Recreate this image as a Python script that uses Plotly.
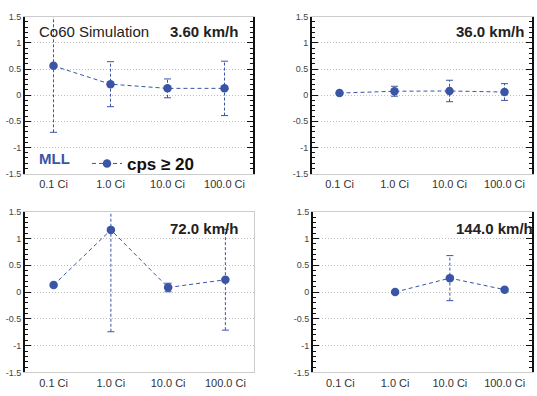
import plotly.graph_objects as go

categories = ["0.1 Ci", "1.0 Ci", "10.0 Ci", "100.0 Ci"]
speed_labels = ["3.60 km/h", "36.0 km/h", "72.0 km/h", "144.0 km/h"]

vals_3p6 = [0.56, 0.21, 0.13, 0.13]
errs_3p6 = [1.27, 0.43, 0.18, 0.52]
vals_36 = [0.04, 0.075, 0.08, 0.06]
errs_36 = [0.0, 0.095, 0.205, 0.16]
vals_72 = [0.13, 1.16, 0.085, 0.23]
errs_72 = [0.0, 1.9, 0.08, 0.94]
vals_144 = [None, 0.0, 0.26, 0.045]
errs_144 = [None, 0.0, 0.42, 0.0]

ytick_vals = [-1.5, -1, -0.5, 0, 0.5, 1, 1.5]
ytick_text = ["-1.5", "-1", "-0.5", "0", "0.5", "1", "1.5"]

series_name = "cps \u2265 20"
title_text = "Co60 Simulation"
method_text = "MLL"

BLUE = "#3a55a6"
W, H = 537, 396

panels = [
    (vals_3p6, errs_3p6, "x", "y"),
    (vals_36, errs_36, "x2", "y2"),
    (vals_72, errs_72, "x3", "y3"),
    (vals_144, errs_144, "x4", "y4"),
]

fig = go.Figure()

for i, (vals, errs, xa, ya) in enumerate(panels):
    # dashed error bars
    for c, v, e in zip(categories, vals, errs):
        if v is None or e is None or e <= 0:
            continue
        fig.add_trace(go.Scatter(
            x=[c, c], y=[v - e, v + e], xaxis=xa, yaxis=ya,
            mode="lines+markers",
            line=dict(color=BLUE, width=1, dash="3px,2px"),
            marker=dict(symbol="line-ew", size=5, color=BLUE,
                        line=dict(color=BLUE, width=1)),
            showlegend=False, hoverinfo="skip"))
    fig.add_trace(go.Scatter(
        x=categories, y=vals, xaxis=xa, yaxis=ya,
        mode="lines+markers", name="<b>" + series_name + "</b>",
        line=dict(color=BLUE, width=1, dash="4px,3px"),
        marker=dict(size=8.5, color=BLUE),
        connectgaps=False,
        showlegend=(i == 0)))

def px_x(a, b):
    return [a / W, b / W]

def px_y(top, bottom):
    return [1 - bottom / H, 1 - top / H]

doms = [
    (px_x(25, 253), px_y(12, 173)),
    (px_x(312, 532), px_y(12, 173)),
    (px_x(25, 254), px_y(212, 377)),
    (px_x(313, 532), px_y(212, 377)),
]

font_family = "Liberation Sans, Arial, sans-serif"
layout = dict(
    width=W, height=H,
    margin=dict(l=0, r=0, t=0, b=0),
    paper_bgcolor="white", plot_bgcolor="white",
    font=dict(family=font_family, color="#333"),
    showlegend=True,
    legend=dict(x=87 / W, y=1 - 163 / H, xanchor="left", yanchor="middle",
                bgcolor="rgba(0,0,0,0)", font=dict(size=17, color="#111"),
                borderwidth=0, tracegroupgap=0),
)

for i, (xd, yd) in enumerate(doms):
    sfx = "" if i == 0 else str(i + 1)
    layout["xaxis" + sfx] = dict(
        domain=xd, anchor="y" + sfx, type="category",
        categoryorder="array", categoryarray=categories,
        range=[-0.5, 3.5], showgrid=False, zeroline=False,
        showline=True, linecolor="#cccccc", linewidth=1, mirror=True,
        ticks="", tickfont=dict(size=11, color="#333"),
        fixedrange=True)
    layout["yaxis" + sfx] = dict(
        domain=yd, anchor="x" + sfx, range=[-1.5, 1.5],
        tickvals=ytick_vals, ticktext=ytick_text,
        tickfont=dict(size=9, color="#444"),
        showgrid=True, gridcolor="#bdbdbd", griddash="1px,2px", gridwidth=1,
        zeroline=False,
        showline=True, linecolor="#111", linewidth=1.8,
        mirror=(False if i == 2 else "ticks"),
        ticks="inside", ticklen=6, tickwidth=1.2, tickcolor="#111",
        minor=dict(dtick=0.1, ticks="inside", ticklen=3, tickwidth=1,
                   tickcolor="#111", showgrid=False),
        fixedrange=True)

# plain light-gray right border for the lower-left panel
layout["yaxis5"] = dict(
    overlaying="y3", anchor="x3", side="right", range=[-1.5, 1.5],
    showline=True, linecolor="#cccccc", linewidth=1,
    showgrid=False, zeroline=False, showticklabels=False, ticks="",
    fixedrange=True)
fig.add_trace(go.Scatter(x=[], y=[], xaxis="x3", yaxis="y5",
                         showlegend=False, hoverinfo="skip"))

fig.update_layout(**layout)

ann = []
ann.append(dict(text=title_text, x=37 / W, y=1 - 27 / H, xref="paper", yref="paper",
                xanchor="left", yanchor="middle", showarrow=False,
                font=dict(size=15, color="#222")))
label_pos = [(168, 27), (454, 27), (168, 229), (454, 229)]
for lab, (lx, ly) in zip(speed_labels, label_pos):
    ann.append(dict(text="<b>" + lab + "</b>", x=lx / W, y=1 - ly / H,
                    xref="paper", yref="paper", xanchor="left", yanchor="middle",
                    showarrow=False, font=dict(size=15, color="#222")))
ann.append(dict(text="<b>" + method_text + "</b>", x=37 / W, y=1 - 157 / H,
                xref="paper", yref="paper", xanchor="left", yanchor="middle",
                showarrow=False, font=dict(size=15, color=BLUE)))
fig.update_layout(annotations=ann)

fig.write_html("out.html", config={"displayModeBar": False},
               post_script="document.body.style.margin='0';document.body.style.padding='0';")
